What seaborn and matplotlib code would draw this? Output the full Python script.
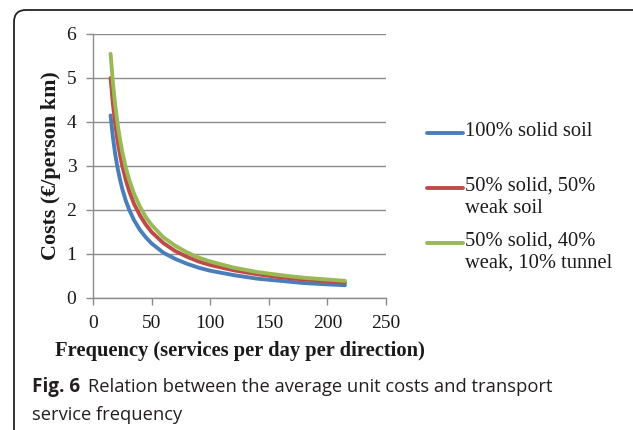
import matplotlib
matplotlib.use("Agg")
import matplotlib.pyplot as plt
import seaborn as sns
import pandas as pd
from matplotlib.patches import FancyBboxPatch
from matplotlib.transforms import IdentityTransform

# data
frequency = [15, 17, 19, 21, 23, 25, 28, 31, 35, 40, 45, 50, 60, 70, 80, 90, 100,
             120, 140, 160, 180, 200, 215]
solid_soil = [4.15, 3.65, 3.26, 2.95, 2.70, 2.48, 2.21, 2.00, 1.77, 1.55, 1.38, 1.24,
              1.03, 0.89, 0.78, 0.69, 0.62, 0.52, 0.44, 0.39, 0.34, 0.31, 0.29]
solid_weak = [5.00, 4.41, 3.95, 3.57, 3.26, 3.00, 2.68, 2.42, 2.14, 1.88, 1.67, 1.50,
              1.25, 1.07, 0.94, 0.83, 0.75, 0.63, 0.54, 0.47, 0.42, 0.38, 0.35]
solid_weak_tunnel = [5.55, 4.88, 4.37, 3.95, 3.61, 3.32, 2.96, 2.68, 2.37, 2.08, 1.84,
                     1.66, 1.38, 1.19, 1.04, 0.92, 0.83, 0.69, 0.59, 0.52, 0.46, 0.42, 0.39]
series_names = ["100% solid soil", "50% solid, 50%\nweak soil",
                "50% solid, 40%\nweak, 10% tunnel"]
colors = ["#4A7EBB", "#BE4B48", "#98B954"]

df = pd.DataFrame({
    "freq": frequency * 3,
    "cost": solid_soil + solid_weak + solid_weak_tunnel,
    "series": [series_names[0]] * len(frequency) + [series_names[1]] * len(frequency)
              + [series_names[2]] * len(frequency),
})

sns.set_theme(style="white")
plt.rcParams["font.family"] = ["Liberation Serif", "DejaVu Serif"]

W, H = 633, 430
fig = plt.figure(figsize=(W / 100, H / 100), dpi=100)
ax = fig.add_axes([93 / W, 1 - 298 / H, 293 / W, 264 / H])

sns.lineplot(data=df, x="freq", y="cost", hue="series", palette=colors,
             linewidth=2.8, ax=ax, legend=False)

ax.set_xlim(0, 250)
ax.set_ylim(0, 6)
ax.set_xticks([0, 50, 100, 150, 200, 250])
ax.set_yticks([0, 1, 2, 3, 4, 5, 6])
ax.yaxis.grid(True, color="#8c8c8c", linewidth=1)
ax.xaxis.grid(False)
ax.set_axisbelow(True)
for s in ["top", "right"]:
    ax.spines[s].set_visible(False)
for s in ["left", "bottom"]:
    ax.spines[s].set_color("#8c8c8c")
    ax.spines[s].set_linewidth(1)
ax.tick_params(axis="both", length=5, width=1, color="#8c8c8c", labelsize=14,
               labelcolor="#1a1a1a", direction="out", pad=7)
ax.tick_params(left=True, bottom=True)

ax.set_xlabel("Frequency (services per day per direction)", fontsize=14.8,
              fontweight="bold", color="#1a1a1a", labelpad=7)
ax.set_ylabel("Costs (€/person km)", fontsize=15.8, fontweight="bold",
              color="#1a1a1a", labelpad=4)

# legend drawn by hand so each line sits on the first text line
legend_y = [133, 188, 243]
for name, c, y in zip(series_names, colors, legend_y):
    fig.add_artist(plt.Line2D([427 / W, 463 / W], [1 - y / H, 1 - y / H],
                              color=c, linewidth=2.8, transform=fig.transFigure))
    fig.text(465 / W, 1 - (y - 11) / H, name, fontsize=14.8, color="#1a1a1a",
             va="top", ha="left", linespacing=1.18)

# caption
fig.text(32 / W, 1 - 387 / H, "Fig. 6", fontsize=13.6, fontweight="bold",
         family="Open Sans", color="#231F20", va="center")
fig.text(88 / W, 1 - 387 / H,
         "Relation between the average unit costs and transport",
         fontsize=13.2, family="Open Sans", color="#231F20", va="center")
fig.text(32 / W, 1 - 415 / H, "service frequency", fontsize=13.2,
         family="Open Sans", color="#231F20", va="center")

# rounded frame around figure and caption
frame = FancyBboxPatch((14, -60), 700, 480, boxstyle="round,pad=0,rounding_size=12",
                       transform=IdentityTransform(), facecolor="none",
                       edgecolor="#222222", linewidth=1.3, clip_on=False)
fig.patches.append(frame)

fig.savefig("out.png", dpi=100)
